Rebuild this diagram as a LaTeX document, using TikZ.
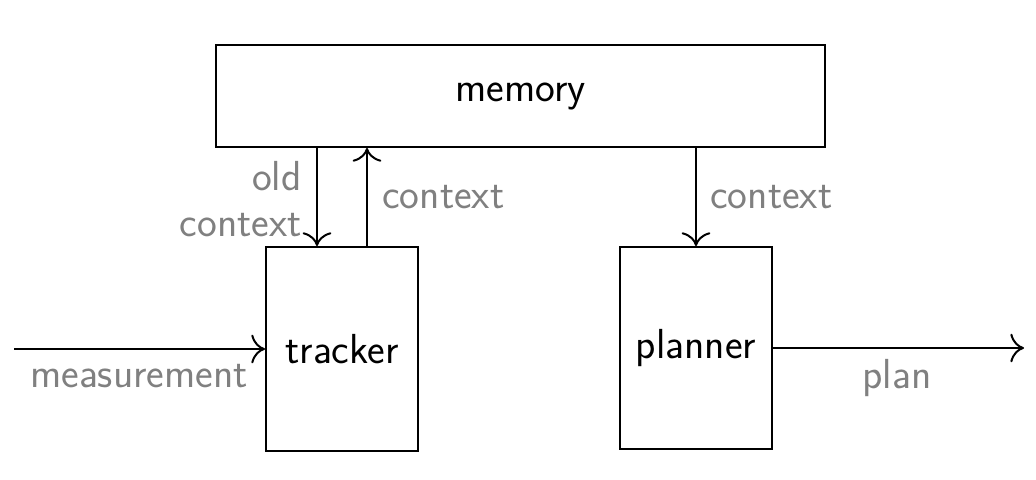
\documentclass[tikz,border=0pt]{standalone}
\usetikzlibrary{calc,arrows.meta}
\begin{document}
\begin{tikzpicture}[x=0.5pt,y=-0.5pt,
  font=\sffamily\fontsize{21}{23}\selectfont,
  box/.style={draw, line width=1pt, inner sep=0pt},
  arr/.style={-{To[scale=1.8]}, line width=1pt},
  lbl/.style={text=black!50, inner sep=0pt}]
\useasboundingbox (0,0) rectangle (1036,480);
\node[box, minimum width=304.5pt, minimum height=51pt] (mem) at (520.5,96) {memory};
\node[box, minimum width=76pt, minimum height=102pt] (trk) at (342,349) {tracker};
\node[box, minimum width=76pt, minimum height=101pt] (pln) at (696,348) {planner};
\coordinate (a1) at ([xshift=-12.5pt]trk.north);
\coordinate (a2) at ([xshift=12.5pt]trk.north);
\coordinate (min) at (14,349);
\coordinate (pout) at (1024,349);
\draw[arr] (a1 |- mem.south) -- (a1);
\draw[arr] (a2) -- (a2 |- mem.south);
\draw[arr] (pln.north |- mem.south) -- (pln.north);
\draw[arr] (min) -- (trk.west);
\draw[arr] (pln.east) -- (pln.east -| pout);
\node[lbl, align=right, anchor=east] (l1) at (302,199) {old\\context};
\node[lbl, anchor=west] (l2) at (382,197) {context};
\node[lbl, anchor=west] (l3) at (710,197) {context};
\node[lbl] (l4) at (139,376) {measurement};
\node[lbl] (l5) at (897,378) {plan};
\end{tikzpicture}
\end{document}
